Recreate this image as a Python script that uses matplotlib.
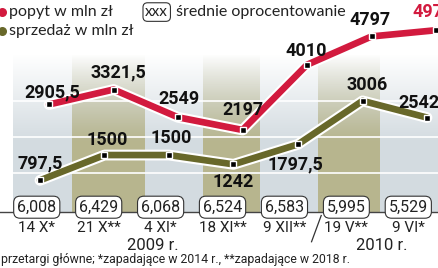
import matplotlib
matplotlib.use("Agg")
import matplotlib.pyplot as plt
import matplotlib.patheffects as pe
import numpy as np

# dane z wykresu
dates = ["14 X*", "21 X**", "4 XI*", "18 XI**", "9 XII**", "19 V**", "9 VI*"]
rates = ["6,008", "6,429", "6,068", "6,524", "6,583", "5,995", "5,529"]
demand = [2905.5, 3321.5, 2549, 2197, 4010, 4797, 4970]
sales = [797.5, 1500, 1500, 1242, 1797.5, 3006, 2542]
demand_lbl = ["2905,5", "3321,5", "2549", "2197", "4010", "4797", "4970"]
sales_lbl = ["797,5", "1500", "1500", "1242", "1797,5", "3006", "2542"]
years = ["2009 r.", "2010 r."]

RED = "#d21a3e"
OLIVE = "#68682a"
NUM = ["Roboto", "DejaVu Sans"]
LIGHT = ["Lato", "DejaVu Sans"]

fig = plt.figure(figsize=(4.39, 2.68), dpi=100)
ax = fig.add_axes([0, 0, 1, 1])
ax.set_xlim(-0.62, 6.186)
ax.set_ylim(-1640, 5810)
ax.axis("off")

x = np.arange(len(dates))
x_red = x + 0.14
x_box = x * 0.96 - 0.05

# tlo: panel z gradientem + pasy
grad = np.linspace(0, 1, 256).reshape(-1, 1)
panel = np.ones((256, 1, 4))
panel[..., 0] = 0.83
panel[..., 1] = 0.86
panel[..., 2] = 0.88
panel[..., 3] = np.clip(grad * 1.8, 0, 1)
ax.imshow(panel, extent=(-0.42, 6.186, -90, 4300), aspect="auto", zorder=0,
          origin="upper")
band = np.ones((256, 1, 4))
band[..., 0] = 0.72
band[..., 1] = 0.71
band[..., 2] = 0.56
band[..., 3] = np.clip(grad * 1.8, 0, 1)
for x0, x1 in [(0.5, 1.63), (2.53, 3.41), (4.31, 5.27)]:
    ax.imshow(band, extent=(x0, x1, -90, 4300), aspect="auto", zorder=1,
              origin="upper")

for g in [1000, 2000, 3000]:
    ax.plot([-0.42, 6.186], [g, g], color="white", lw=1.2, zorder=2)
ax.plot([-0.62, 6.186], [-90, -90], color="#444444", lw=1, zorder=2)

# linie
for xs, ys, col in [(x_red, demand, RED), (x, sales, OLIVE)]:
    ax.plot(xs, ys, color=col, lw=4.8, solid_capstyle="round", zorder=4,
            path_effects=[pe.Stroke(linewidth=7.8, foreground="white"), pe.Normal()])
    ax.plot(xs, ys, ls="none", marker="s", ms=4.8, mfc="black", mec="white",
            mew=1.0, zorder=5)

red_off = [(3, 12), (5, 17), (1, 18), (0, 20), (-1, 14), (-1, 16), (-3, 18)]
sales_off = [(0, 17), (3, 15), (2, 17), (0, -18), (-3, -20), (5, 16), (-8, 15)]
for i in range(len(dates)):
    ax.annotate(demand_lbl[i], (x_red[i], demand[i]), xytext=red_off[i],
                textcoords="offset pixels", ha="center", va="center",
                fontsize=13, fontweight="bold", family=NUM, zorder=6,
                color=RED if i == len(dates) - 1 else "#111111")
    ax.annotate(sales_lbl[i], (x[i], sales[i]), xytext=sales_off[i],
                textcoords="offset pixels", ha="center", va="center",
                fontsize=13, fontweight="bold", family=NUM, zorder=6,
                color="#111111")
    ax.text(x_box[i], 50, rates[i], ha="center", va="center", fontsize=11.5,
            family=NUM, color="#222222", zorder=6,
            bbox=dict(boxstyle="round,pad=0.22,rounding_size=0.4",
                      fc="white", ec="#333333", lw=0.8))
    ax.text(x_box[i], -540, dates[i], ha="center", va="center", fontsize=11,
            family=NUM, color="#222222")

ax.text(1.75, -1010, years[0], ha="center", va="center", fontsize=12,
        family=NUM, color="#222222")
ax.text(5.3, -1010, years[1], ha="center", va="center", fontsize=12,
        family=NUM, color="#222222")
ax.plot([4.36, 4.21], [-180, -910], color="#333333", lw=0.9)

# legenda
ax.scatter([0.004], [0.955], s=30, color=RED, transform=ax.transAxes,
           clip_on=False, zorder=6)
ax.scatter([0.004], [0.885], s=30, color=OLIVE, transform=ax.transAxes,
           clip_on=False, zorder=6)
ax.text(0.02, 0.955, "popyt w mln zł", transform=ax.transAxes, ha="left",
        va="center", fontsize=11.5, family=LIGHT, color="#222222")
ax.text(0.02, 0.885, "sprzedaż w mln zł", transform=ax.transAxes, ha="left",
        va="center", fontsize=11.5, family=LIGHT, color="#222222")
ax.text(0.357, 0.955, "xxx", transform=ax.transAxes, ha="center", va="center",
        fontsize=11, family=LIGHT, color="#222222",
        bbox=dict(boxstyle="round,pad=0.15,rounding_size=0.3", fc="white",
                  ec="#333333", lw=0.8))
ax.text(0.4, 0.955, "średnie oprocentowanie", transform=ax.transAxes,
        ha="left", va="center", fontsize=11.5, family=LIGHT, color="#222222")

ax.text(0.002, 0.03, "przetargi główne; *zapadające w 2014 r., **zapadające w 2018 r.",
        transform=ax.transAxes, ha="left", va="center", fontsize=8.8,
        family=NUM, color="#222222")

fig.savefig("out.png", dpi=100)
